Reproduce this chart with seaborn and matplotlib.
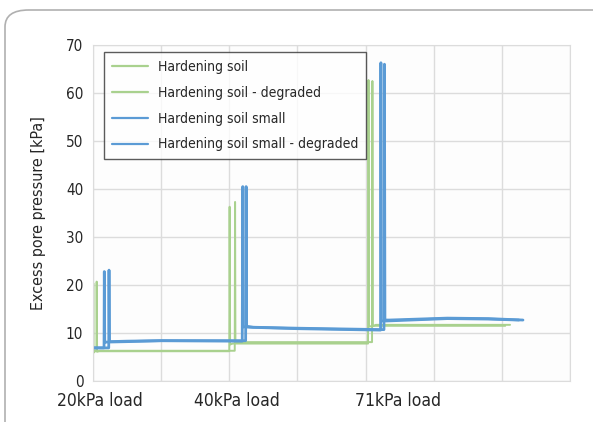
import pandas as pd
import seaborn as sns
import matplotlib.pyplot as plt
from matplotlib.patches import FancyBboxPatch
from matplotlib import font_manager

# time axis in "grid" units (one unit = one vertical gridline spacing)
hs_x = [0.0, 0.004, 0.008, 0.03, 2.0, 2.005, 2.012, 2.05, 4.036, 4.043, 4.05, 4.1, 6.05]
hs_y = [5.5, 20.4, 5.9, 6.2, 6.2, 36.3, 7.6, 7.8, 7.8, 62.7, 11.3, 11.5, 11.5]

hsd_x = [0.0, 0.05, 0.054, 0.06, 0.1, 2.08, 2.085, 2.09, 2.12, 4.095, 4.10, 4.107, 4.15, 6.12]
hsd_y = [6.3, 6.3, 20.7, 6.1, 6.3, 6.3, 37.3, 8.0, 8.1, 8.1, 62.5, 11.4, 11.7, 11.7]

hss_x = [0.0, 0.162, 0.166, 0.172, 0.5, 1.0, 2.19, 2.198, 2.205, 2.3, 3.0, 4.22, 4.225, 4.232, 4.3, 5.2, 5.8, 6.25]
hss_y = [6.9, 6.9, 22.8, 8.1, 8.2, 8.4, 8.3, 40.5, 11.3, 11.2, 10.9, 10.6, 66.3, 12.5, 12.5, 13.0, 12.9, 12.7]

hssd_x = [0.0, 0.231, 0.235, 0.241, 0.5, 1.0, 2.24, 2.247, 2.254, 2.35, 3.0, 4.27, 4.277, 4.284, 4.35, 5.2, 5.8, 6.31]
hssd_y = [6.9, 6.9, 23.1, 8.2, 8.3, 8.4, 8.4, 40.5, 11.4, 11.2, 11.0, 10.7, 66.0, 12.7, 12.7, 13.1, 13.0, 12.7]

series = ["Hardening soil", "Hardening soil - degraded",
          "Hardening soil small", "Hardening soil small - degraded"]
xs = [hs_x, hsd_x, hss_x, hssd_x]
ys = [hs_y, hsd_y, hss_y, hssd_y]
colors = ["#a9d18e", "#a9d18e", "#5b9bd5", "#5b9bd5"]
widths = [1.4, 1.4, 2.0, 2.0]

load_pos = [0.103, 2.115, 4.47]
load_labels = ["20kPa load", "40kPa load", "71kPa load"]

sns.set_style("white")
names = {f.name for f in font_manager.fontManager.ttflist}
narrow = [n for n in ["Liberation Sans Narrow", "DejaVu Sans Condensed"] if n in names]
plt.rcParams['font.family'] = narrow + ['DejaVu Sans']
plt.rcParams['font.stretch'] = 'condensed'

fig = plt.figure(figsize=(5.93, 4.22), dpi=100)
border = FancyBboxPatch((5 / 593, -0.2), 1.2, 0.2 + 412 / 422,
                        boxstyle="round,pad=0,rounding_size=0.04",
                        transform=fig.transFigure, facecolor="white",
                        edgecolor="#b0b0b0", lw=1.2, zorder=-10)
fig.patches.append(border)

ax = fig.add_axes([93 / 593, 41 / 422, 477 / 593, 336 / 422])
ax.set_facecolor("#fdfdfd")

for name, x, y, c, w in zip(series, xs, ys, colors, widths):
    df = pd.DataFrame({"t": x, "p": y})
    sns.lineplot(data=df, x="t", y="p", sort=False, estimator=None,
                 color=c, lw=w, label=name, ax=ax)

ax.set_xlim(0, 7)
ax.set_ylim(0, 70)
ax.set_xticks(range(8))
ax.set_xticklabels([])
ax.set_xticks(load_pos, minor=True)
ax.set_xticklabels(load_labels, minor=True, fontsize=12.5)
ax.set_yticks(range(0, 71, 10))
ax.tick_params(axis="y", labelsize=11, length=0, pad=7)
ax.tick_params(axis="x", which="both", length=0, pad=8)
ax.grid(True, which="major", color="#dcdcdc", lw=1)
for s in ax.spines.values():
    s.set_color("#dcdcdc")
ax.set_xlabel("")
ax.set_ylabel("Excess pore pressure [kPa]", fontsize=11.5, labelpad=14)

leg = ax.legend(loc="upper left", bbox_to_anchor=(0.024, 0.978), fontsize=10,
                frameon=True, fancybox=False, handlelength=2.6, borderpad=0.55,
                labelspacing=0.85, handletextpad=0.7, borderaxespad=0)
leg.get_frame().set_edgecolor("#333333")
leg.get_frame().set_linewidth(1)
for h in leg.get_lines():
    h.set_linewidth(1.6)

fig.savefig("out.png", dpi=100)
